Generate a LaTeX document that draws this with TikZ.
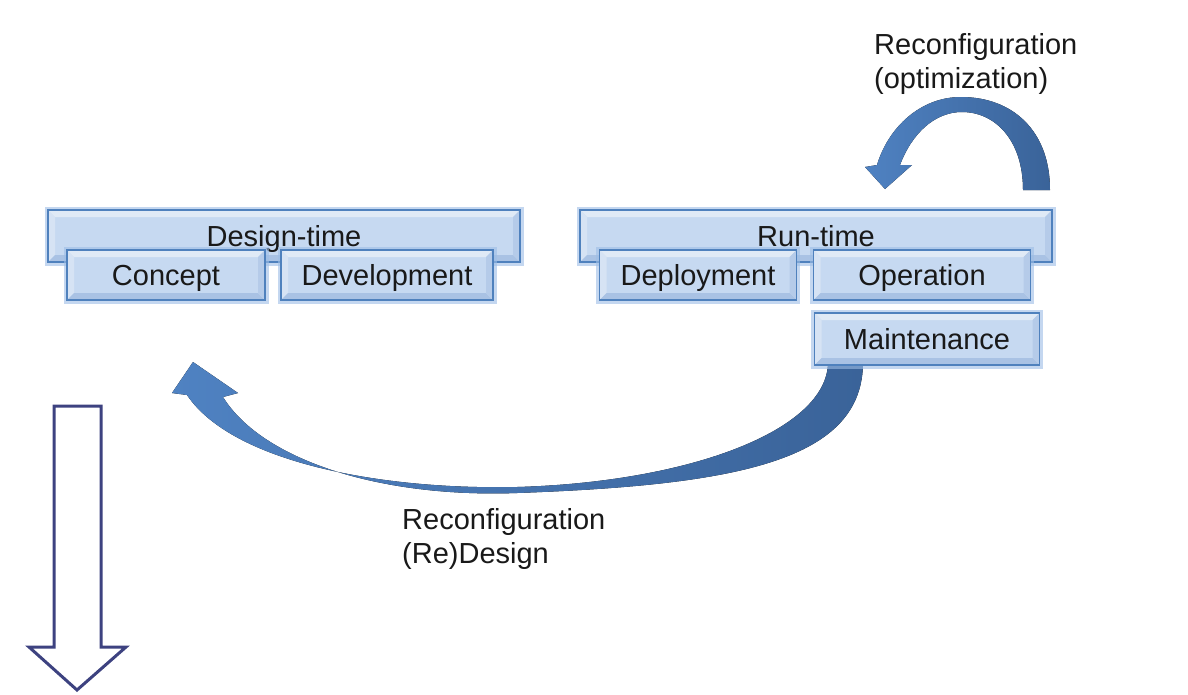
\documentclass[tikz,border=0pt]{standalone}
\usepackage{fontspec}
\setmainfont{Liberation Sans}
\usetikzlibrary{calc}

\definecolor{boxfill}{HTML}{C6D9F1}
\definecolor{boxlight}{HTML}{E0EAF6}
\definecolor{boxdark}{HTML}{A9C2E4}
\definecolor{boxline}{HTML}{4F81BD}
\definecolor{boxglow}{HTML}{9DBDE6}
\definecolor{arrowlight}{HTML}{4F82C2}
\definecolor{arrowdark}{HTML}{3A6399}
\definecolor{hollowline}{HTML}{3D4280}

\tikzset{
  panel/.style={rectangle, draw=boxline, line width=1.8pt, fill=boxfill,
    preaction={draw=boxglow, line width=7pt, opacity=0.6},
    inner sep=0pt, text height=23pt, text depth=2pt, text=black!90,
    font=\fontsize{29}{34}\selectfont,
    path picture={
      \coordinate (pNW) at (path picture bounding box.north west);
      \coordinate (pNE) at (path picture bounding box.north east);
      \coordinate (pSW) at (path picture bounding box.south west);
      \coordinate (pSE) at (path picture bounding box.south east);
      \fill[boxlight] (pNW) -- (pNE) -- ($(pNE)+(-7pt,-7pt)$) -- ($(pNW)+(7pt,-7pt)$) -- cycle;
      \fill[boxlight!60!boxfill] (pNW) -- (pSW) -- ($(pSW)+(7pt,7pt)$) -- ($(pNW)+(7pt,-7pt)$) -- cycle;
      \fill[boxdark] (pSW) -- (pSE) -- ($(pSE)+(-7pt,7pt)$) -- ($(pSW)+(7pt,7pt)$) -- cycle;
      \fill[boxdark!60!boxfill] (pNE) -- (pSE) -- ($(pSE)+(-7pt,7pt)$) -- ($(pNE)+(-7pt,-7pt)$) -- cycle;
    }},
  label text/.style={align=left, inner sep=0pt, text=black!90,
    font=\fontsize{29}{34}\selectfont},
  block arrow/.style={left color=arrowlight, right color=arrowdark},
}

\begin{document}
\begin{tikzpicture}[x=1pt,y=-1pt]
  \useasboundingbox (0,0) rectangle (1188,694);
  % curved arrows
  \fill[block arrow] (1050,190) .. controls (1050,130) and (1012,97) .. (961,97)
     .. controls (920,97) and (888,128) .. (877,165) -- (865,167) -- (885,189)
     -- (912,165) -- (900,165) .. controls (912,133) and (935,112) .. (962,112)
     .. controls (995,112) and (1023,140) .. (1023,190) -- cycle;
  \fill[block arrow] (863,362) .. controls (863,460) and (740,485) .. (517,493)
     .. controls (380,498) and (262,460) .. (223,397) -- (238,393) -- (193,362)
     -- (172,393) -- (187,395) .. controls (232,462) and (380,490) .. (517,487)
     .. controls (690,482) and (828,430) .. (828,362) -- cycle;
  % phases
  \node[panel, minimum width=472pt, minimum height=52pt] (designtime) at (284,236) {Design-time};
  \node[panel, minimum width=198pt, minimum height=50pt] (concept) at (166,275) {Concept};
  \node[panel, minimum width=212pt, minimum height=50pt] (development) at (387,275) {Development};
  \node[panel, minimum width=472pt, minimum height=52pt] (runtime) at (816,236) {Run-time};
  \node[panel, minimum width=197pt, minimum height=50pt] (deployment) at (698,275) {Deployment};
  \node[panel, minimum width=217pt, minimum height=50pt] (operation) at (922,275) {Operation};
  \node[panel, minimum width=225pt, minimum height=52pt] (maintenance) at (927,339) {Maintenance};
  % labels
  \node[label text, anchor=north west] (optlabel) at (874,33) {Reconfiguration\\(optimization)};
  \node[label text, anchor=north west] (redesignlabel) at (402,508) {Reconfiguration\\(Re)Design};
  % hollow arrow
  \draw[hollowline, line width=3pt, fill=white] (54,406) -- (101,406) -- (101,647)
     -- (126,647) -- (77,690) -- (29,647) -- (54,647) -- cycle;
\end{tikzpicture}
\end{document}
